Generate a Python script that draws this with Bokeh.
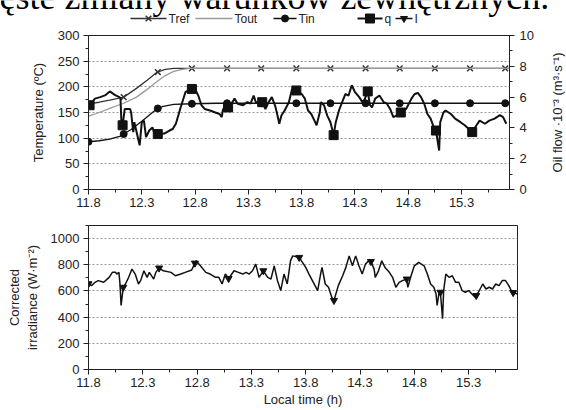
import math
from bokeh.plotting import figure
from bokeh.models import Range1d, LinearAxis, FixedTicker
from bokeh.core.properties import value
from bokeh.layouts import column, row
from bokeh.embed import file_html
from bokeh.resources import INLINE
import numpy as np

FONT = "Liberation Sans"

# ---- data ----
x_ticks = [11.8, 12.3, 12.8, 13.3, 13.8, 14.3, 14.8, 15.3]
x_tick_labels = ["11.8", "12.3", "12.8", "13.3", "13.8", "14.3", "14.8", "15.3"]

tref_t = [11.80, 11.90, 12.00, 12.13, 12.25, 12.35, 12.44, 12.52, 12.60, 15.75]
tref = [167, 170, 174, 180, 197, 213, 228, 234, 236, 236]

tout_t = [11.80, 11.90, 12.00, 12.13, 12.25, 12.35, 12.44, 12.52, 12.60, 12.68, 12.75, 15.75]
tout = [143, 150, 158, 168, 180, 195, 210, 222, 230, 234, 236, 236]

tin_t = [11.80, 11.90, 12.00, 12.10, 12.13, 12.20, 12.30, 12.44, 12.50, 12.60, 12.77, 13.00, 15.75]
tin = [93, 95, 98, 104, 108, 117, 133, 157, 162, 166, 167, 168, 168]

temp_marker_t = [11.80, 12.13, 12.45, 12.77, 13.10, 13.42, 13.75, 14.07, 14.40, 14.72, 15.05, 15.38, 15.71]

q_t = [11.81, 11.86, 11.91, 11.96, 12.00, 12.05, 12.09, 12.10, 12.11, 12.12,
       12.14, 12.19, 12.20, 12.22, 12.23, 12.28, 12.30, 12.32, 12.34, 12.37,
       12.40, 12.42, 12.45, 12.51, 12.56, 12.59, 12.62, 12.66, 12.71, 12.77,
       12.80, 12.83, 12.86, 12.89, 12.94, 12.99, 13.03, 13.05, 13.06, 13.08,
       13.11, 13.15, 13.17, 13.20, 13.25, 13.29, 13.32, 13.35, 13.37, 13.43,
       13.46, 13.49, 13.52, 13.55, 13.57, 13.59, 13.61, 13.64, 13.68, 13.71,
       13.75, 13.80, 13.83, 13.86, 13.89, 13.92, 13.94, 13.97, 13.98, 14.01,
       14.04, 14.07, 14.10, 14.12, 14.15, 14.18, 14.21, 14.24, 14.27, 14.30,
       14.34, 14.37, 14.39, 14.42, 14.44, 14.46, 14.49, 14.53, 14.57, 14.60,
       14.63, 14.66, 14.69, 14.73, 14.78, 14.83, 14.86, 14.89, 14.92, 14.95,
       14.98, 15.01, 15.04, 15.06, 15.09, 15.10, 15.13, 15.15, 15.20, 15.24,
       15.29, 15.33, 15.40, 15.44, 15.47, 15.52, 15.56, 15.61, 15.66, 15.69, 15.72]
q = [5.47, 5.90, 6.00, 6.13, 6.37, 6.13, 6.00, 5.93, 4.17, 4.17,
     5.23, 5.23, 5.00, 3.73, 4.37, 2.87, 4.37, 4.47, 3.40, 3.83,
     4.03, 3.63, 3.60, 3.63, 3.83, 3.93, 4.27, 5.23, 6.33, 6.53,
     6.53, 6.10, 5.47, 5.23, 5.13, 5.00, 4.90, 4.70, 5.13, 5.47,
     5.33, 5.67, 5.90, 5.57, 5.47, 5.67, 5.57, 6.10, 5.67, 5.67,
     5.23, 5.67, 6.00, 5.47, 4.90, 4.27, 4.80, 5.13, 5.67, 6.53,
     6.43, 6.20, 5.90, 5.13, 4.90, 4.47, 4.17, 5.00, 5.67, 5.47,
     4.80, 4.37, 3.53, 4.37, 5.13, 5.67, 6.20, 6.10, 6.77, 6.33,
     6.00, 5.67, 5.83, 6.37, 5.50, 5.33, 5.90, 6.10, 5.67, 5.57,
     5.23, 4.70, 4.80, 5.00, 5.23, 5.90, 6.20, 6.27, 6.00, 5.57,
     4.90, 4.60, 4.03, 3.83, 2.53, 4.37, 5.00, 5.13, 4.90, 4.60,
     4.37, 4.17, 3.73, 4.17, 4.47, 4.27, 4.47, 4.60, 4.83, 4.70, 4.27]
q_marker_t = [11.81, 12.12, 12.45, 12.77, 13.11, 13.43, 13.75, 14.10, 14.42, 14.73, 15.06, 15.40]

irr_t = [11.80, 11.83, 11.86, 11.89, 11.94, 11.99, 12.02, 12.05, 12.06, 12.08,
         12.09, 12.10, 12.12, 12.14, 12.17, 12.20, 12.23, 12.26, 12.28, 12.31,
         12.34, 12.36, 12.39, 12.40, 12.42, 12.45, 12.49, 12.56, 12.60, 12.65,
         12.69, 12.75, 12.79, 12.83, 12.88, 12.92, 12.97, 13.00, 13.03, 13.06,
         13.09, 13.14, 13.18, 13.22, 13.25, 13.28, 13.31, 13.34, 13.37, 13.41,
         13.45, 13.48, 13.51, 13.54, 13.57, 13.60, 13.63, 13.66, 13.68, 13.74,
         13.77, 13.80, 13.83, 13.87, 13.91, 13.94, 13.95, 13.98, 14.01, 14.04,
         14.06, 14.10, 14.14, 14.17, 14.20, 14.23, 14.26, 14.29, 14.32, 14.35,
         14.38, 14.40, 14.43, 14.44, 14.47, 14.50, 14.53, 14.57, 14.60, 14.63,
         14.66, 14.69, 14.73, 14.74, 14.77, 14.80, 14.84, 14.89, 14.92, 14.95,
         14.98, 15.00, 15.01, 15.03, 15.04, 15.06, 15.07, 15.09, 15.12, 15.15,
         15.18, 15.21, 15.24, 15.27, 15.30, 15.33, 15.36, 15.39, 15.43, 15.46,
         15.49, 15.52, 15.55, 15.58, 15.61, 15.64, 15.67, 15.70, 15.73, 15.75]
irr = [655, 641, 666, 679, 666, 704, 742, 742, 729, 742,
       653, 489, 628, 653, 704, 767, 729, 653, 679, 754,
       704, 742, 704, 691, 742, 775, 754, 742, 716, 729,
       742, 760, 830, 792, 742, 729, 704, 704, 653, 729,
       695, 754, 742, 729, 742, 729, 754, 805, 704, 754,
       704, 691, 792, 679, 603, 729, 653, 830, 868, 856,
       818, 780, 729, 666, 603, 742, 780, 653, 628, 552,
       527, 641, 716, 780, 868, 792, 868, 792, 729, 805,
       830, 825, 767, 704, 754, 830, 780, 742, 704, 628,
       666, 679, 691, 628, 716, 792, 818, 792, 729, 653,
       628, 577, 489, 603, 590, 388, 603, 729, 704, 716,
       666, 666, 603, 590, 603, 577, 552, 590, 653, 615,
       628, 615, 653, 641, 679, 679, 641, 590, 582, 577]
irr_marker_t = [11.80, 12.12, 12.45, 12.78, 13.09, 13.41, 13.74, 14.06, 14.40, 14.73, 15.04, 15.37, 15.71]

# legend layout (header strip, pixels measured from the header's bottom edge)
legend_labels = ["Tref", "Tout", "Tin", "q", "I"]
legend_line_x0 = [130, 195, 273, 357, 395]
legend_line_x1 = [166, 232, 296, 382, 412]
legend_markers = ["x", None, "circle", "square", "inverted_triangle"]
legend_colors = ["#333333", "#9a9a9a", "#111111", "#111111", "#111111"]
legend_widths = [1.3, 1.3, 1.3, 2.0, 1.5]
legend_marker_sizes = [8, 0, 7, 9, 7]
legend_y = 10
title_y = 17

title_text = "ęste zmiany warunków zewnętrznych."
right_label = "Oil flow ·10⁻³ (m³·s⁻¹)"


def style_axis(ax):
    ax.axis_line_color = "#222222"
    ax.major_tick_line_color = "#222222"
    ax.minor_tick_line_color = "#222222"
    ax.major_tick_out = 5
    ax.major_tick_in = 0
    ax.minor_tick_out = 3
    ax.minor_tick_in = 0
    ax.major_label_text_font = FONT
    ax.major_label_text_font_size = "13px"
    ax.major_label_text_color = "#222222"
    ax.axis_label_text_font = FONT
    ax.axis_label_text_font_size = "13px"
    ax.axis_label_text_font_style = "normal"
    ax.axis_label_text_color = "#222222"


x_minor = [11.8 + 0.25 * k for k in range(17)]
x_overrides = dict(zip(x_ticks, x_tick_labels))

# ---- header: clipped caption + legend ----
p0 = figure(width=566, height=28, x_range=Range1d(0, 566), y_range=Range1d(0, 28),
            output_backend="svg", toolbar_location=None,
            x_axis_location=None, y_axis_location=None,
            min_border_left=0, min_border_right=0, min_border_top=0, min_border_bottom=0)
p0.frame_align = False
p0.grid.visible = False
p0.outline_line_color = None
p0.text(x=[-1], y=[title_y], text=[title_text], text_font=value("Liberation Serif"),
        text_font_size="36px", text_baseline="alphabetic", text_align="left",
        y_offset=-15, text_color="#000000")
for lab, x0, x1, mk, col, lw, ms in zip(legend_labels, legend_line_x0, legend_line_x1,
                                        legend_markers, legend_colors, legend_widths,
                                        legend_marker_sizes):
    p0.line([x0, x1], [legend_y, legend_y], line_color=col, line_width=lw)
    if mk is not None:
        if mk == "x":
            p0.scatter([(x0 + x1) / 2], [legend_y], marker=mk, size=ms,
                       line_color=col, line_width=1.5)
        else:
            p0.scatter([(x0 + x1) / 2], [legend_y], marker=mk, size=ms,
                       fill_color=col, line_color=col)
    p0.text(x=[x1 + 2], y=[legend_y], text=[lab], text_font=value(FONT),
            text_font_size="12px", text_baseline="middle", text_align="left",
            text_color="#222222")

# ---- top plot ----
p1 = figure(width=536, height=189, x_range=Range1d(11.8, 15.75), y_range=Range1d(0, 300),
            output_backend="svg", toolbar_location=None,
            min_border_left=88, min_border_right=19, min_border_top=7, min_border_bottom=28)
p1.outline_line_color = "#222222"
p1.xgrid.visible = False
p1.ygrid.grid_line_color = "#999999"
p1.ygrid.grid_line_dash = "2 2"
p1.xaxis.ticker = FixedTicker(ticks=x_ticks, minor_ticks=x_minor)
p1.xaxis.major_label_overrides = x_overrides
p1.yaxis.ticker = FixedTicker(ticks=[0, 50, 100, 150, 200, 250, 300],
                              minor_ticks=list(range(0, 301, 25)))
p1.yaxis.axis_label = "Temperature (ºC)"
p1.extra_y_ranges = {"q": Range1d(0, 10)}
rax = LinearAxis(y_range_name="q")
rax.ticker = FixedTicker(ticks=[0, 2, 4, 6, 8, 10], minor_ticks=list(range(0, 11)))
p1.add_layout(rax, "right")
for ax in [p1.xaxis[0], p1.yaxis[0], rax]:
    style_axis(ax)
p1.xaxis.major_label_standoff = 3
p1.yaxis.major_label_standoff = 4
p1.yaxis.axis_label_standoff = 9
rax.major_label_standoff = 5

p1.line(tref_t, tref, line_color="#333333", line_width=1.3)
p1.scatter(temp_marker_t, np.interp(temp_marker_t, tref_t, tref), marker="x",
           size=8, line_color="#333333", line_width=1.5)
p1.line(tout_t, tout, line_color="#9a9a9a", line_width=1.3)
p1.line(tin_t, tin, line_color="#111111", line_width=1.3)
p1.scatter(temp_marker_t, np.interp(temp_marker_t, tin_t, tin), marker="circle",
           size=7, fill_color="#111111", line_color="#111111")
p1.line(q_t, q, y_range_name="q", line_color="#111111", line_width=2)
p1.scatter(q_marker_t, np.interp(q_marker_t, q_t, q), y_range_name="q", marker="square",
           size=9, fill_color="#111111", line_color="#111111")

# ---- right-hand axis title (reads bottom to top) ----
pr = figure(width=30, height=189, x_range=Range1d(0, 30), y_range=Range1d(0, 300),
            output_backend="svg", toolbar_location=None,
            x_axis_location=None, y_axis_location=None,
            min_border_left=0, min_border_right=0, min_border_top=7, min_border_bottom=28)
pr.frame_align = False
pr.grid.visible = False
pr.outline_line_color = None
pr.text(x=[21], y=[150], text=[right_label], angle=math.pi / 2,
        text_font=value(FONT), text_font_size="13px", text_align="center",
        text_baseline="middle", text_color="#222222")

# ---- bottom plot ----
p2 = figure(width=566, height=193, x_range=Range1d(11.8, 15.75), y_range=Range1d(0, 1100),
            output_backend="svg", toolbar_location=None,
            min_border_left=88, min_border_right=49, min_border_top=8, min_border_bottom=41)
p2.outline_line_color = "#222222"
p2.xgrid.visible = False
p2.ygrid.grid_line_color = "#999999"
p2.ygrid.grid_line_dash = "2 2"
p2.xaxis.ticker = FixedTicker(ticks=x_ticks, minor_ticks=x_minor)
p2.xaxis.major_label_overrides = x_overrides
p2.yaxis.ticker = FixedTicker(ticks=[0, 200, 400, 600, 800, 1000],
                              minor_ticks=list(range(0, 1101, 100)))
p2.yaxis.axis_label = "Corrected\nirradiance (W·m⁻²)"
p2.xaxis.axis_label = "Local time (h)"
for ax in [p2.xaxis[0], p2.yaxis[0]]:
    style_axis(ax)
p2.xaxis.major_label_standoff = 3
p2.yaxis.major_label_standoff = 4
p2.yaxis.axis_label_standoff = 8
p2.xaxis.axis_label_standoff = 2

p2.line(irr_t, irr, line_color="#111111", line_width=1.5)
p2.scatter(irr_marker_t, np.interp(irr_marker_t, irr_t, irr), marker="inverted_triangle",
           size=7, fill_color="#111111", line_color="#111111")

layout = column(p0, row(p1, pr, spacing=0), p2, spacing=0)
open("out.html", "w").write(file_html(layout, INLINE))
